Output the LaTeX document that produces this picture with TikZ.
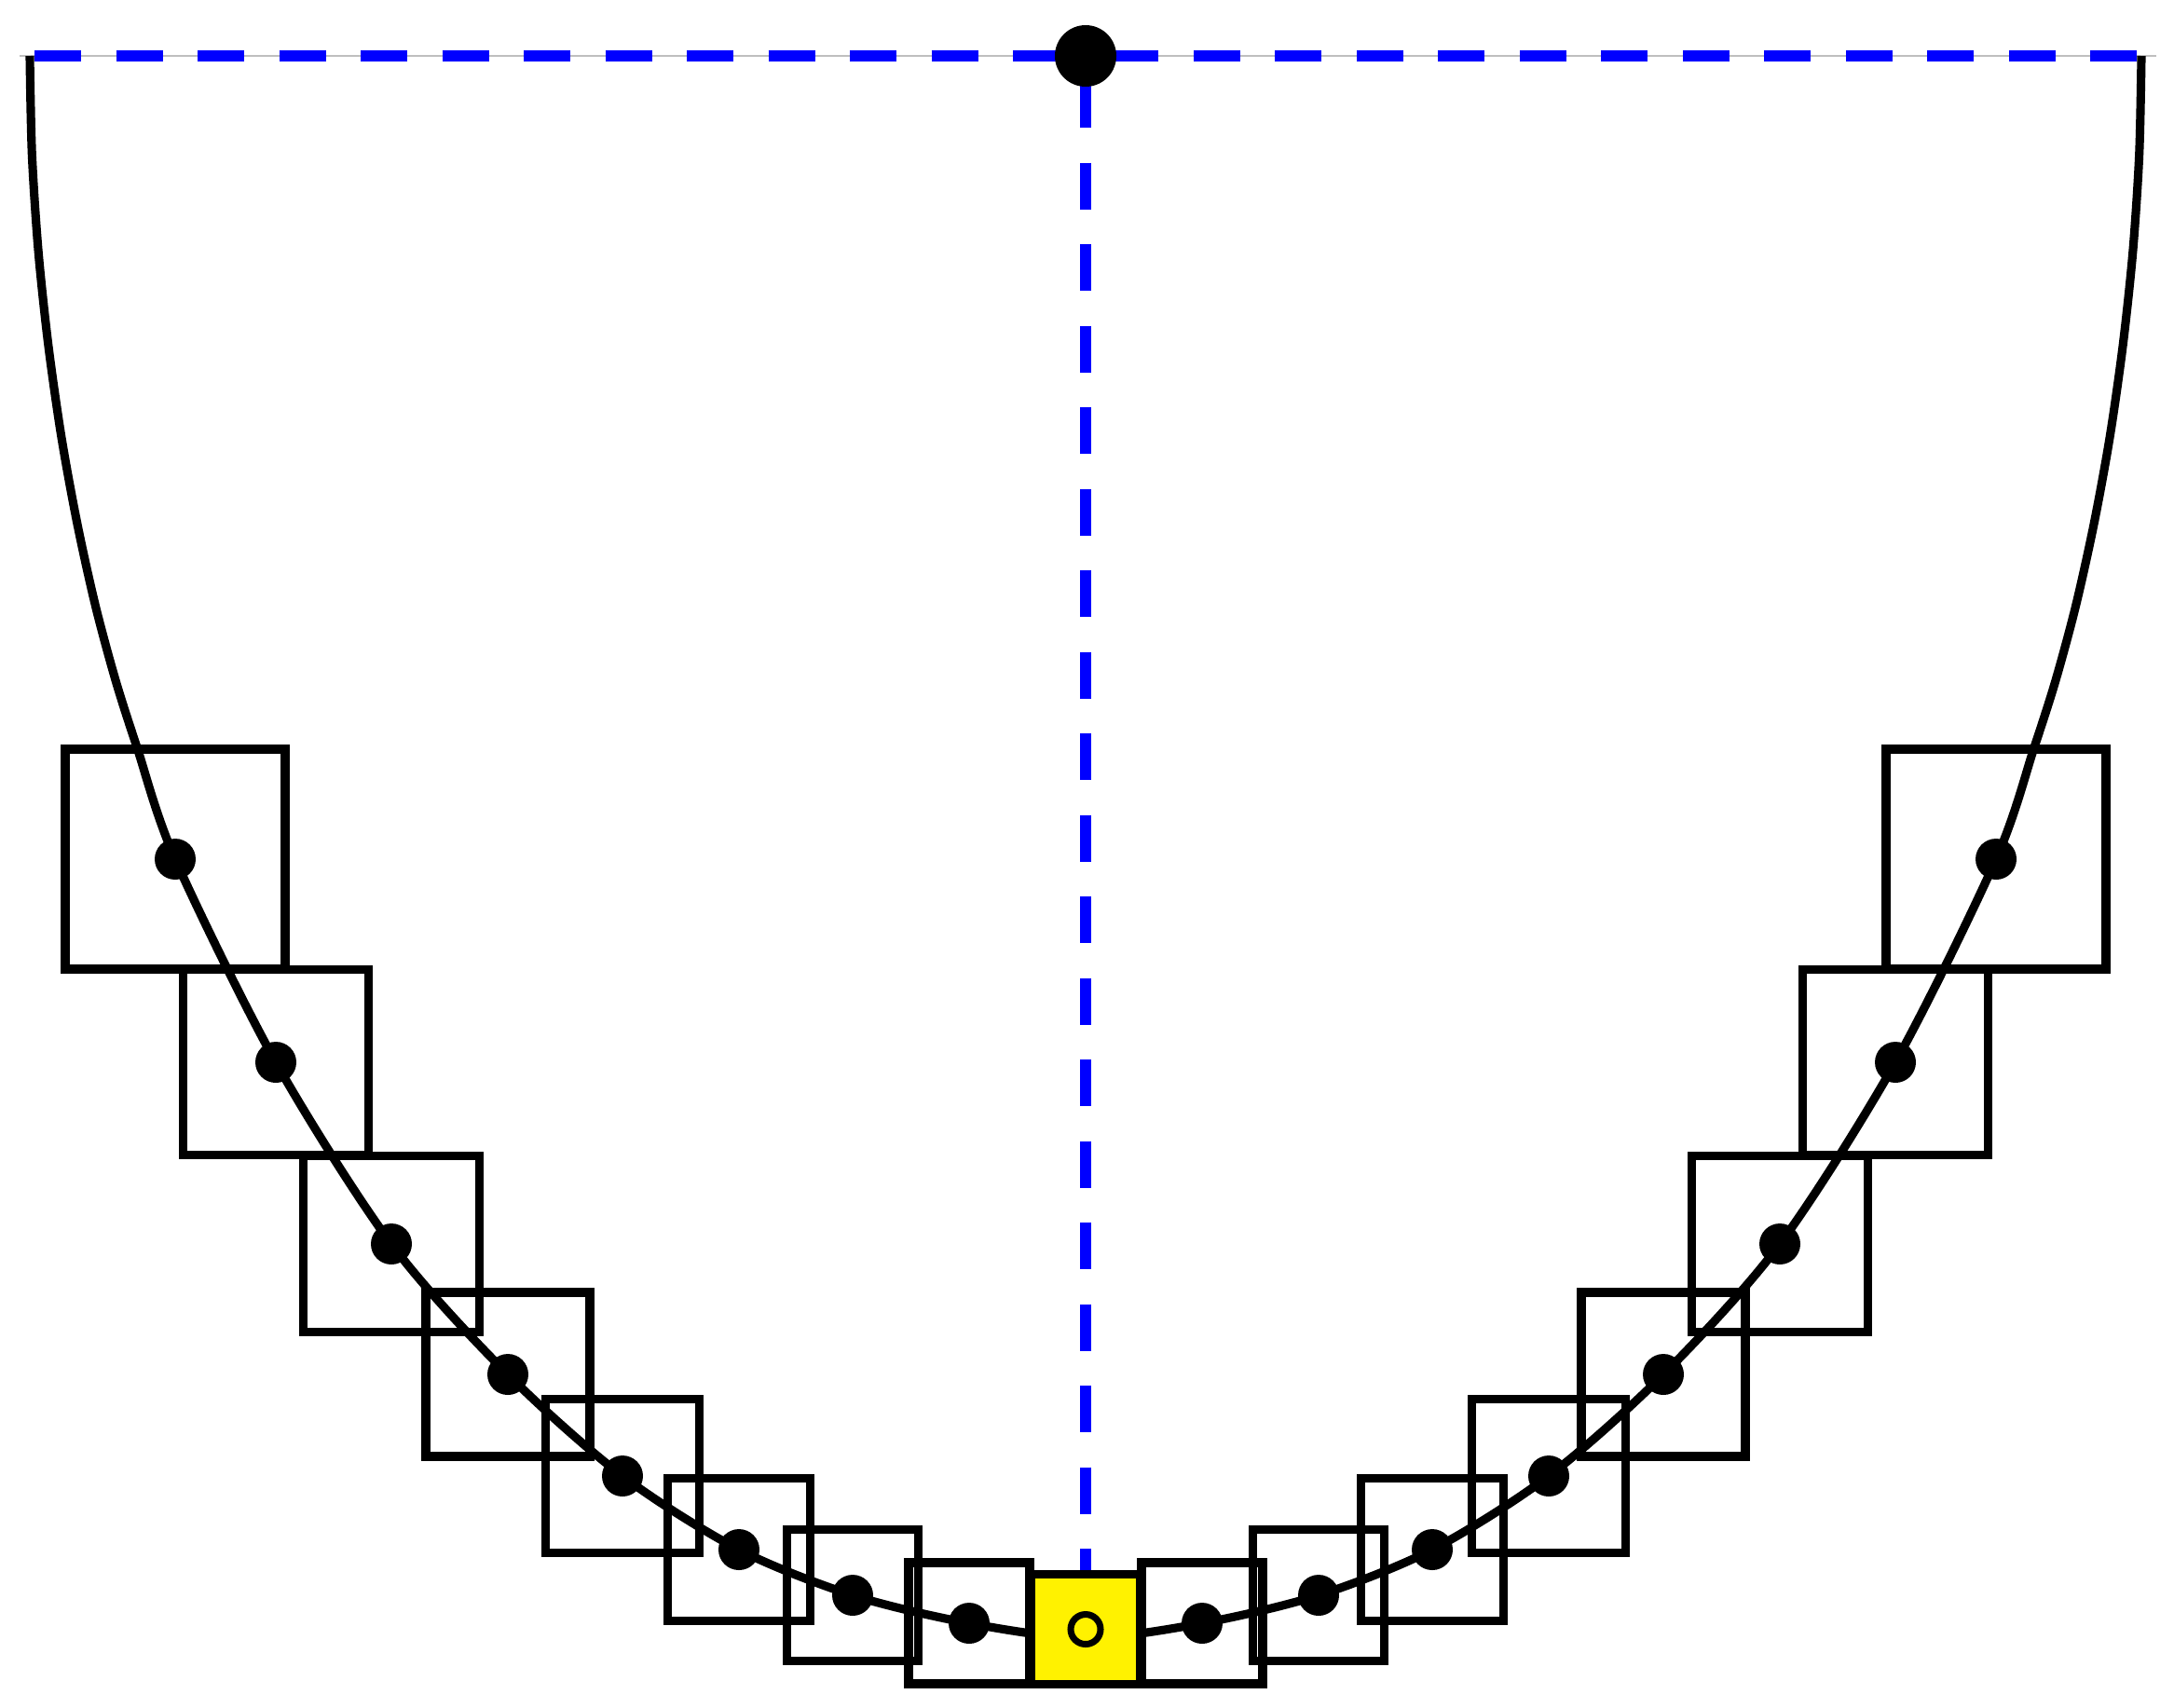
\documentclass[tikz,border=0pt]{standalone}
\usepackage{tikz}
\usetikzlibrary{positioning}

\tikzset{
  blk/.style={draw, line width=2.6pt, minimum size=#1, inner sep=0pt},
  bead/.style={circle, fill, inner sep=0pt, minimum size=0.44cm},
  guide/.style={blue, line width=3.5pt, dash pattern=on 0.5cm off 0.375cm},
}

\begin{document}
\begin{tikzpicture}
  \useasboundingbox (0,0) rectangle (23.33,-18.32);

  % Points used by the lines
  \coordinate (top) at (11.65,-0.6);
  \coordinate (lend) at (0.37,-0.6);
  \coordinate (rend) at (22.93,-0.6);
  \coordinate (base) at (11.65,-16.9);
  \coordinate (ltip) at (0.32,-0.6);
  \coordinate (rtip) at (22.98,-0.6);

  % Bead positions along the curve
  \coordinate (l1) at (1.88,-9.22);   \coordinate (r1) at (21.42,-9.22);
  \coordinate (l2) at (2.96,-11.40);  \coordinate (r2) at (20.34,-11.40);
  \coordinate (l3) at (4.20,-13.35);  \coordinate (r3) at (19.10,-13.35);
  \coordinate (l4) at (5.45,-14.75);  \coordinate (r4) at (17.85,-14.75);
  \coordinate (l5) at (6.68,-15.84);  \coordinate (r5) at (16.62,-15.84);
  \coordinate (l6) at (7.93,-16.63);  \coordinate (r6) at (15.37,-16.63);
  \coordinate (l7) at (9.15,-17.12);  \coordinate (r7) at (14.15,-17.12);
  \coordinate (l8) at (10.40,-17.42); \coordinate (r8) at (12.90,-17.42);

  % Thin line along the top
  \draw[gray!50, line width=0.4pt] (0.21,-0.6) -- (23.14,-0.6);

  % Dashed guide lines
  \draw[guide] (lend) -- (top);
  \draw[guide] (rend) -- (top);
  \draw[guide, dash phase=0.605cm] (top) -- (base);

  % The curve
  \draw[line width=2.6pt] plot[smooth] coordinates {(ltip) (0.343,-1.65) (0.411,-2.69) (0.518,-3.70)
    (0.659,-4.69) (0.829,-5.62) (1.024,-6.50) (1.24,-7.30) (1.47,-8.02)
    (l1) (l2) (l3) (l4) (l5) (l6) (l7) (l8) (11.65,-17.58)
    (r8) (r7) (r6) (r5) (r4) (r3) (r2) (r1)
    (21.83,-8.02) (22.06,-7.30) (22.276,-6.50) (22.471,-5.62) (22.641,-4.69)
    (22.782,-3.70) (22.889,-2.69) (22.957,-1.65) (rtip)};

  % Boxes and beads
  \foreach \i/\s in {1/2.36, 2/1.99, 3/1.89, 4/1.76, 5/1.65, 6/1.53, 7/1.41, 8/1.30} {
    \node[blk=\s cm] (bl\i) at (l\i) {};
    \node[blk=\s cm] (br\i) at (r\i) {};
    \node[bead] (dl\i) at (l\i) {};
    \node[bead] (dr\i) at (r\i) {};
  }

  % Mass at the bottom
  \node[blk=1.18cm, fill=yellow] (mass) at (11.65,-17.485) {};
  \node[circle, draw, fill=yellow, line width=2pt, minimum size=0.32cm, inner sep=0pt] (pin) at (mass.center) {};

  % Hinge at the top
  \node[circle, fill, inner sep=0pt, minimum size=0.66cm] (hinge) at (top) {};
\end{tikzpicture}
\end{document}
